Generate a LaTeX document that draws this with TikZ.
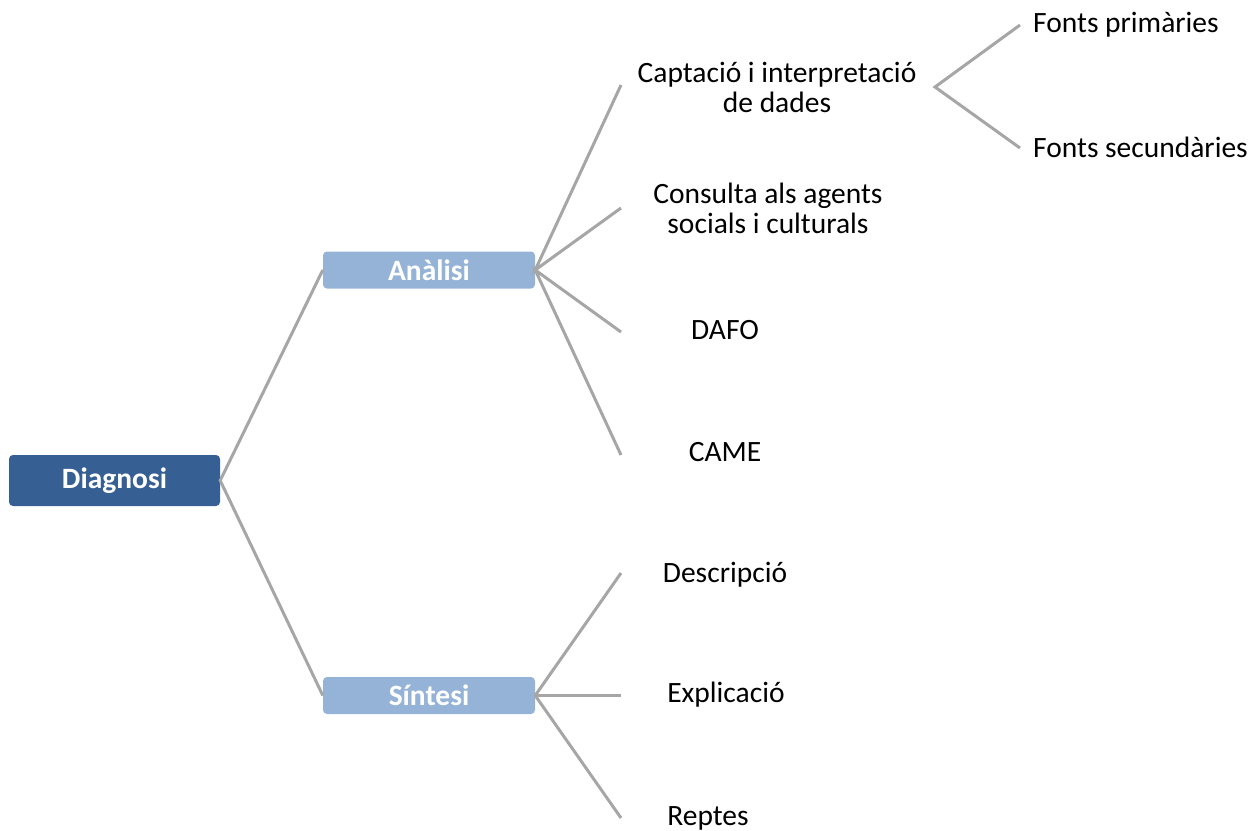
\documentclass[tikz,border=0pt]{standalone}
\usepackage{fontspec}
\setmainfont{Carlito}
\definecolor{darkbox}{HTML}{365F93}
\definecolor{lightbox}{HTML}{95B3D7}
\definecolor{linegray}{HTML}{A6A6A6}
\begin{document}
\begin{tikzpicture}[x=1pt,y=-1pt,
  every node/.style={font=\fontsize{29.5}{30}\selectfont, inner sep=0pt},
  mainbox/.style={fill=darkbox, rounded corners=4pt, minimum width=211pt, minimum height=51pt, text=white, font=\fontsize{29.5}{30}\selectfont\bfseries},
  subbox/.style={fill=lightbox, rounded corners=4pt, minimum width=212pt, minimum height=37pt, text=white, font=\fontsize{29.5}{30}\selectfont\bfseries},
  leaf/.style={align=center},
  conn/.style={draw=linegray, line width=3pt}]
\useasboundingbox (0,0) rectangle (1249,830);
\node[mainbox] (diag) at (114.5,480.5) {Diagnosi};
\node[subbox] (anal) at (429,270) {Anàlisi};
\node[subbox] (sint) at (429,695.5) {Síntesi};
\coordinate (a1) at (621,85);
\coordinate (a2) at (621,208);
\coordinate (a3) at (621,332);
\coordinate (a4) at (621,455);
\coordinate (s1) at (621,573);
\coordinate (s2) at (621,695.5);
\coordinate (s3) at (621,818);
\coordinate (c0) at (935,87);
\coordinate (f1) at (1020,25);
\coordinate (f2) at (1020,148);
\node[leaf] (capt) at (777,87) {Captació i interpretació\\de dades};
\node[leaf] (cons) at (768,208) {Consulta als agents\\socials i culturals};
\node[leaf] (dafo) at (725,330) {DAFO};
\node[leaf] (came) at (725,452) {CAME};
\node[leaf] (desc) at (725,575) {Descripció};
\node[leaf] (expl) at (726,695) {Explicació};
\node[leaf] (rept) at (708,818) {Reptes};
\node[anchor=west] (fp) at (1033,25) {Fonts primàries};
\node[anchor=west] (fs) at (1033,147) {Fonts secundàries};
\draw[conn] (a1) -- (anal.east) -- (a2);
\draw[conn] (a3) -- (anal.east) -- (a4);
\draw[conn] (anal.west) -- (diag.east) -- (sint.west);
\draw[conn] (s1) -- (sint.east) -- (s3);
\draw[conn] (sint.east) -- (s2);
\draw[conn] (f1) -- (c0) -- (f2);
\end{tikzpicture}
\end{document}
